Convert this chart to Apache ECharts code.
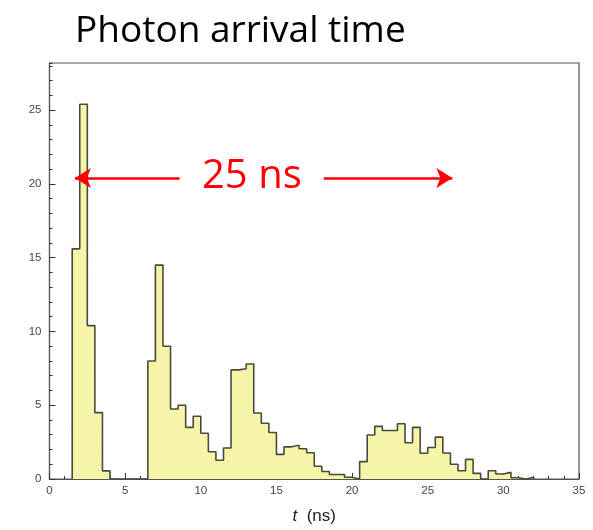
<!DOCTYPE html>
<html>
<head>
<meta charset="utf-8">
<script src="https://cdn.jsdelivr.net/npm/echarts@6/dist/echarts.min.js"></script>
<style>html,body{margin:0;padding:0;background:#fff}#c{width:593px;height:530px}</style>
</head>
<body>
<div id="c"></div>
<script>
// Histogram bins (left edges, ns) and counts
const binStart = [1.5, 2.0, 2.5, 3.0, 3.5, 4.0, 4.5, 5.0, 5.5, 6.0,
  6.5, 7.0, 7.5, 8.0, 8.5, 9.0, 9.5, 10.0, 10.5, 11.0,
  11.5, 12.0, 12.5, 13.0, 13.5, 14.0, 14.5, 15.0, 15.5, 16.0,
  16.5, 17.0, 17.5, 18.0, 18.5, 19.0, 19.5, 20.0, 20.5, 21.0,
  21.5, 22.0, 22.5, 23.0, 23.5, 24.0, 24.5, 25.0, 25.5, 26.0,
  26.5, 27.0, 27.5, 28.0, 28.5, 29.0, 29.5, 30.0, 30.5, 31.0,
  31.5];
const binWidth = 0.5;
const counts = [15.6, 25.4, 10.4, 4.5, 0.55, 0, 0, 0, 0, 0,
  8.0, 14.5, 9.0, 4.75, 5.0, 3.5, 4.25, 3.1, 1.85, 1.27,
  2.1, 7.4, 7.47, 7.8, 4.47, 3.78, 3.15, 1.67, 2.18, 2.29,
  2.05, 1.78, 0.86, 0.51, 0.31, 0.3, 0.12, 0, 1.18, 2.98,
  3.57, 3.29, 3.29, 3.75, 2.46, 3.5, 1.75, 2.14, 2.84, 1.76,
  1.0, 0.56, 1.33, 0.38, 0, 0.56, 0.34, 0.45, 0.08, 0,
  0.12];
const xTicks = [0, 5, 10, 15, 20, 25, 30, 35];
const yTicks = [0, 5, 10, 15, 20, 25];
// 25 ns bunch-spacing arrows (ns, counts)
const arrowLeft = [[1.68, 20.4], [8.6, 20.4]];
const arrowRight = [[18.13, 20.4], [26.63, 20.4]];
const titleText = 'Photon arrival time';
const annotText = '25 ns';

const stepData = [[binStart[0], 0]];
binStart.forEach((x, i) => stepData.push([x, counts[i]]));
stepData.push([binStart[binStart.length - 1] + binWidth, 0]);

const chart = echarts.init(document.getElementById('c'), null, {renderer: 'canvas'});
const axisCol = '#555';
const labelFont = {fontFamily: 'Liberation Sans', fontSize: 11.5, color: '#444'};
chart.setOption({
  animation: false,
  backgroundColor: '#fff',
  title: {
    text: titleText, left: 70, top: 8,
    textStyle: {fontFamily: 'Open Sans', fontSize: 37, fontWeight: 'normal', color: '#000'}
  },
  grid: {left: 49.5, right: 14, top: 63, bottom: 44, show: true, borderColor: axisCol, borderWidth: 1.2, backgroundColor: 'transparent'},
  xAxis: {
    type: 'value', min: xTicks[0], max: xTicks[xTicks.length - 1], interval: 5,
    axisLine: {show: true, lineStyle: {color: axisCol, width: 1.2}},
    axisTick: {show: true, inside: true, length: 6, lineStyle: {color: '#333', width: 1}},
    minorTick: {show: true, splitNumber: 5, length: 3, lineStyle: {color: '#333', width: 1}},
    axisLabel: Object.assign({margin: 6}, labelFont),
    splitLine: {show: false}, minorSplitLine: {show: false},
    name: '{i|t}  (ns)', nameLocation: 'middle', nameGap: 29,
    nameTextStyle: {fontFamily: 'Liberation Sans', fontSize: 17, color: '#222',
      rich: {i: {fontFamily: 'Liberation Sans', fontStyle: 'italic', fontSize: 17, color: '#222'}}}
  },
  yAxis: [{
    type: 'value', min: yTicks[0], max: 28.2, interval: 5,
    axisLine: {show: true, lineStyle: {color: axisCol, width: 1.2}},
    axisTick: {show: true, inside: true, length: 6, lineStyle: {color: '#333', width: 1}},
    axisLabel: Object.assign({margin: 8, showMaxLabel: false}, labelFont),
    splitLine: {show: false}
  }, {
    type: 'value', min: yTicks[0], max: 28.2, interval: 1, position: 'left', offset: 0,
    axisLine: {show: false},
    axisTick: {show: true, inside: true, length: 3, lineStyle: {color: '#333', width: 1}},
    axisLabel: {show: false}, splitLine: {show: false}
  }],
  series: [{
    type: 'line', step: 'end', data: stepData, showSymbol: false, symbol: 'none',
    lineStyle: {color: '#4a4a3c', width: 1.6},
    areaStyle: {color: '#f6f4a8', opacity: 1},
    z: 2,
    markLine: {
      silent: true, animation: false,
      label: {show: false},
      lineStyle: {color: '#ff0000', width: 2.5, type: 'solid'},
      data: [
        [{coord: arrowLeft[0], symbol: 'arrow', symbolSize: [15, 16]}, {coord: arrowLeft[1], symbol: 'none'}],
        [{coord: arrowRight[0], symbol: 'none'}, {coord: arrowRight[1], symbol: 'arrow', symbolSize: [15, 16]}]
      ]
    }
  }],
  graphic: [{
    type: 'text', left: 202, top: 157,
    style: {text: annotText, fontFamily: 'Open Sans', fontSize: 40, fill: '#ff0000'}
  }]
});
</script>
</body>
</html>
